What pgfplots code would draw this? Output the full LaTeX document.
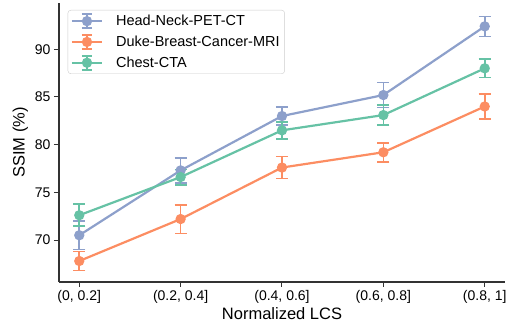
\documentclass[border=0pt]{standalone}
\usepackage{pgfplots}
\pgfplotsset{compat=1.18}
\usepackage{fontspec}
\setmainfont{Liberation Sans}
\definecolor{cblue}{HTML}{8DA0CB}
\definecolor{corange}{HTML}{FC8D62}
\definecolor{cgreen}{HTML}{66C2A5}
\pgfplotstableread{
x y e
0 70.5 1.5
1 77.3 1.3
2 83.0 0.95
3 85.2 1.3
4 92.4 1.05
}\hn
\pgfplotstableread{
x y e
0 67.8 1.0
1 72.2 1.5
2 77.6 1.15
3 79.2 1.0
4 84.0 1.3
}\duke
\pgfplotstableread{
x y e
0 72.6 1.15
1 76.6 0.8
2 81.5 0.9
3 83.1 1.05
4 88.0 0.95
}\chest
\begin{document}
\begin{tikzpicture}
\begin{axis}[
  scale only axis, width=446bp, height=279bp,
  xmin=-0.2, xmax=4.2, ymin=65.6, ymax=94.85,
  axis x line*=bottom, axis y line*=left,
  axis line style={line width=1.1bp, black!80},
  xtick={0,1,2,3,4},
  xticklabels={{(0, 0.2]},{(0.2, 0.4]},{(0.4, 0.6]},{(0.6, 0.8]},{(0.8, 1]}},
  ytick={70,75,80,85,90},
  tick align=outside, major tick length=5bp,
  tick style={line width=1bp, black!80},
  /pgf/number format/assume math mode=true,
  tick label style={font=\fontsize{14bp}{16bp}\selectfont},
  label style={font=\fontsize{16.5bp}{19bp}\selectfont},
  xlabel={Normalized LCS},
  xlabel style={yshift=3bp},
  ylabel={SSIM (\%)},
  legend cell align=left,
  legend style={at={(axis description cs:0.0195,0.975)}, anchor=north west,
    draw=black!20, rounded corners=3bp, fill=white,
    font=\fontsize{14.5bp}{16bp}\selectfont, row sep=4.8bp, inner sep=3bp,
    /tikz/every odd column/.append style={column sep=11bp}},
  legend image code/.code={
    \draw[line width=2.2bp] (0bp,0bp) -- (30bp,0bp);
    \draw[line width=1.6bp] (15bp,-7bp) -- (15bp,7bp);
    \draw[line width=1.6bp] (10bp,7bp) -- (20bp,7bp);
    \draw[line width=1.6bp] (10bp,-7bp) -- (20bp,-7bp);
    \fill (15bp,0bp) circle (4bp);
  },
  every axis plot/.append style={line width=2.2bp, mark=*, mark size=4bp,
    error bars/y dir=both, error bars/y explicit,
    error bars/error bar style={line width=1.6bp},
    error bars/error mark options={line width=1.6bp, mark size=6bp, rotate=90}},
]
\addplot[color=cblue, mark options={fill=cblue, draw=cblue}] table[x=x, y=y, y error=e] {\hn};
\addlegendentry{Head-Neck-PET-CT}
\addplot[color=corange, mark options={fill=corange, draw=corange}] table[x=x, y=y, y error=e] {\duke};
\addlegendentry{Duke-Breast-Cancer-MRI}
\addplot[color=cgreen, mark options={fill=cgreen, draw=cgreen}] table[x=x, y=y, y error=e] {\chest};
\addlegendentry{Chest-CTA}
\end{axis}
\pgfresetboundingbox
\useasboundingbox (-59bp,-42bp) rectangle (453bp,282bp);
\end{tikzpicture}
\end{document}
